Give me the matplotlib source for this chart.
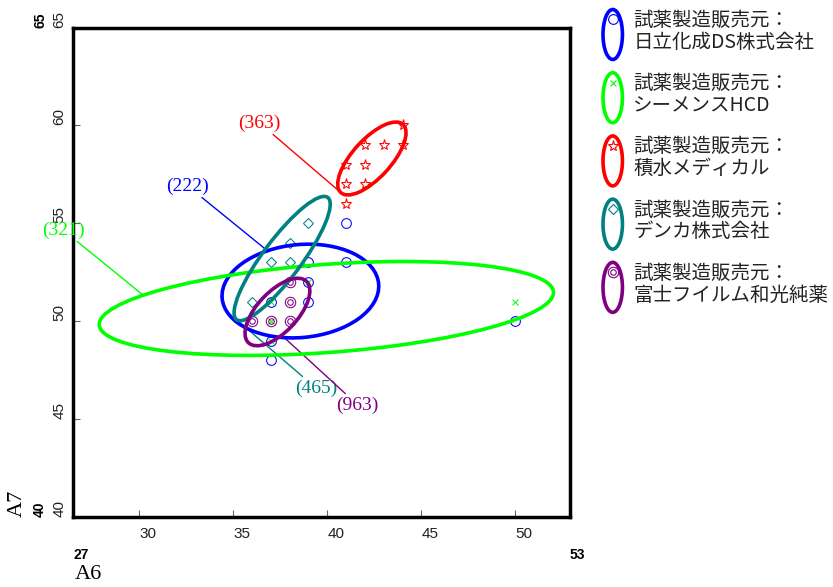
import numpy as np
import matplotlib.pyplot as plt
from matplotlib.patches import Ellipse
from matplotlib.lines import Line2D
from matplotlib.legend_handler import HandlerBase

# groups (legend order)
makers = ["日立化成DS株式会社", "シーメンスHCD", "積水メディカル", "デンカ株式会社", "富士フイルム和光純薬"]
ids = ["(222)", "(321)", "(363)", "(465)", "(963)"]
colors = ["#0000ff", "#00ff00", "#ff0000", "#008080", "#800080"]

hitachi_x = [41, 41, 39, 39, 39, 37, 37, 37, 50]
hitachi_y = [55, 53, 53, 52, 51, 51, 49, 48, 50]
siemens_x = [37, 39, 37, 37, 50]
siemens_y = [51, 52, 50, 49, 51]
sekisui_x = [44, 42, 43, 44, 41, 42, 41, 42, 41]
sekisui_y = [60, 59, 59, 59, 58, 58, 57, 57, 56]
denka_x = [39, 38, 37, 38, 36]
denka_y = [55, 54, 53, 53, 51]
fuji_x = [38, 38, 36, 37, 38]
fuji_y = [52, 51, 50, 50, 50]

# ellipse per group: centre, full width/height, angle (deg)
ell_cx = [38.57, 39.95, 42.37, 37.6, 37.35]
ell_cy = [51.54, 50.65, 58.31, 53.2, 50.47]
ell_w = [8.35, 24.2, 4.8, 7.9, 4.4]
ell_h = [4.75, 4.5, 2.0, 2.0, 2.1]
ell_ang = [5, 4, 46, 52, 45]

xs = [hitachi_x, siemens_x, sekisui_x, denka_x, fuji_x]
ys = [hitachi_y, siemens_y, sekisui_y, denka_y, fuji_y]
markers = ["o", "x", "*", "D", "o"]
msizes = [7, 4.5, 8, 5.5, 7.5]

# where the callout labels sit and where they touch the ellipse (param angle)
label_xy = [(32.59, 56.9), (25.95, 54.66), (36.41, 60.12), (39.39, 46.59), (41.62, 45.72)]
touch_t = [112, 143, 180, 180, 252]

sans = "Liberation Sans"
serif = "Liberation Serif"
cjk = ["Noto Sans CJK JP", "DejaVu Sans"]


def on_ellipse(i, t):
    a, b = ell_w[i] / 2, ell_h[i] / 2
    th, t = np.radians(ell_ang[i]), np.radians(t)
    x = ell_cx[i] + a * np.cos(t) * np.cos(th) - b * np.sin(t) * np.sin(th)
    y = ell_cy[i] + a * np.cos(t) * np.sin(th) + b * np.sin(t) * np.cos(th)
    return x, y


class EllipseHandler(HandlerBase):
    def __init__(self, double=False):
        super().__init__()
        self.double = double

    def create_artists(self, legend, orig_handle, xdescent, ydescent,
                       width, height, fontsize, trans):
        eh = 2.57 * fontsize
        cx = 0.5 * width - xdescent
        cy = 0.5 * height - ydescent - 0.05 * fontsize
        c = orig_handle.get_color()
        arts = [Ellipse((cx, cy), width, eh, fill=False, edgecolor=c,
                        lw=2.6, transform=trans)]
        sizes = [orig_handle.get_markersize()]
        if self.double:
            sizes.append(4)
        for s in sizes:
            arts.append(Line2D([cx], [cy + 0.3 * eh], ls="none",
                               marker=orig_handle.get_marker(), ms=s,
                               mfc="none", mec=c, mew=0.8, transform=trans))
        return arts


fig = plt.figure(figsize=(8.33, 5.87), dpi=100)
ax = fig.add_axes([73.3 / 833, 1 - 517 / 587, 496.7 / 833, 489.5 / 587])

handles = []
for i in range(5):
    ax.plot(xs[i], ys[i], ls="none", marker=markers[i], ms=msizes[i],
            mfc="none", mec=colors[i], mew=0.75, zorder=3)
    if i == 4:
        ax.plot(xs[i], ys[i], ls="none", marker="o", ms=4,
                mfc="none", mec=colors[i], mew=0.75, zorder=3)
    ax.add_patch(Ellipse((ell_cx[i], ell_cy[i]), ell_w[i], ell_h[i],
                         angle=ell_ang[i], fill=False, edgecolor=colors[i],
                         lw=2.6, zorder=4))
    tx, ty = on_ellipse(i, touch_t[i])
    ax.annotate(ids[i], xy=(tx, ty), xytext=label_xy[i], ha="center",
                va="center", color=colors[i], fontsize=14, family=serif,
                annotation_clip=False,
                arrowprops=dict(arrowstyle="-", color=colors[i], lw=1,
                                shrinkA=0, shrinkB=0))
    handles.append(Line2D([], [], color=colors[i], marker=markers[i],
                          ms=msizes[i], ls="none"))

ax.set_xlim(26.5, 52.9)
ax.set_ylim(40, 65)
ax.set_xticks([30, 35, 40, 45, 50])
ax.set_yticks([40, 45, 50, 55, 60, 65])
ax.tick_params(direction="in", length=5, width=0.8, color="#666666",
               labelsize=11, labelcolor="#222222")
ax.tick_params(axis="x", pad=7)
ax.tick_params(axis="y", pad=5, labelrotation=90)
for lab in ax.get_xticklabels():
    lab.set_ha("left")
    lab.set_family(sans)
for lab in ax.get_yticklabels():
    lab.set_va("bottom")
    lab.set_family(sans)
for sp in ax.spines.values():
    sp.set_linewidth(2.5)

# bold range labels and axis names
bold = dict(fontsize=10, fontweight="bold", family=sans, transform=ax.transAxes)
ax.text(0, -0.064, "27", ha="left", va="top", **bold)
ax.text(1, -0.064, "53", ha="left", va="top", **bold)
ax.text(-0.067, 1, "65", ha="center", va="bottom", rotation=90, **bold)
ax.text(-0.067, 0, "40", ha="center", va="bottom", rotation=90, **bold)
ax.text(-0.113, 0.0, "A7", ha="center", va="bottom", rotation=90,
        fontsize=16, family=serif, transform=ax.transAxes)
ax.text(0.003, -0.098, "A6", ha="left", va="top", fontsize=16, family=serif,
        transform=ax.transAxes)

labels = ["試薬製造販売元：\n" + m for m in makers]
hmap = {h: EllipseHandler(double=(i == 4)) for i, h in enumerate(handles)}
leg = fig.legend(handles, labels, handler_map=hmap, loc="upper left",
                 bbox_to_anchor=(603 / 833, 1 - 10 / 587), frameon=False,
                 borderpad=0, borderaxespad=0, handlelength=1.0,
                 handleheight=2.6, handletextpad=0.55, labelspacing=1.05,
                 prop={"family": cjk, "size": 14}, labelcolor="#222222")
for t in leg.get_texts():
    t.set_linespacing(1.05)

fig.savefig("out.png", dpi=100)
